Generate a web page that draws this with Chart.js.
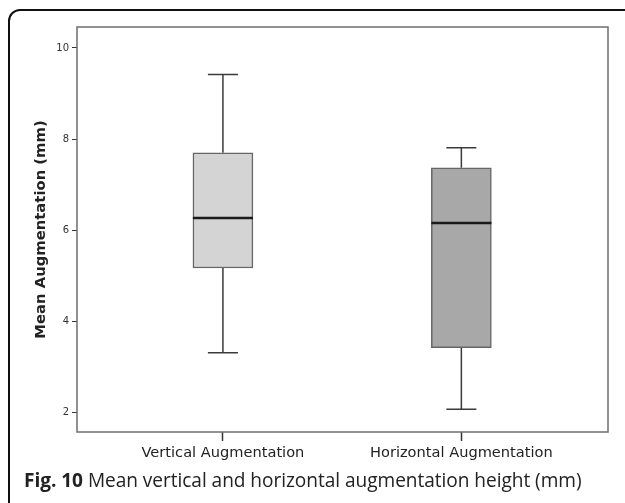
<!DOCTYPE html>
<html>
<head>
<meta charset="utf-8">
<script src="https://cdn.jsdelivr.net/npm/chart.js@4"></script>
<style>
  html, body { margin:0; padding:0; width:625px; height:503px; overflow:hidden; background:#fff; }
  #frame { position:absolute; left:8px; top:9px; width:700px; height:600px; border:2px solid #111; border-top-left-radius:12px; box-sizing:border-box; }
  #wrap { position:absolute; left:0; top:0; width:625px; height:503px; }
  #caption { position:absolute; left:24px; top:467px; font-family:"Open Sans", sans-serif; font-size:19.1px; color:#222; white-space:nowrap; letter-spacing:-0.05px; }
  #caption b { font-weight:700; }
</style>
</head>
<body>
<div id="frame"></div>
<div id="wrap"><canvas id="c" width="625" height="503"></canvas></div>
<div id="caption"><b>Fig. 10</b> Mean vertical and horizontal augmentation height (mm)</div>
<script>
const categories = ['Vertical Augmentation', 'Horizontal Augmentation'];
const whiskerLow  = [3.31, 2.07];
const q1          = [5.17, 3.42];
const medians     = [6.27, 6.16];
const q3          = [7.70, 7.37];
const whiskerHigh = [9.42, 7.81];
const yTicks      = [2, 4, 6, 8, 10];
const boxColors   = ['#d4d4d4', '#a8a8a8'];

const BOX_HALF = 0.126;   // half box width in x-units
const CAP_HALF = 0.063;   // half whisker cap width in x-units

const boxData = categories.map((c, i) => ({ x: i, y: [q1[i], q3[i]] }));
const whiskerData = [], capData = [], medianData = [];
categories.forEach((c, i) => {
  whiskerData.push({ x: i, y: q3[i] }, { x: i, y: whiskerHigh[i] }, { x: i, y: null });
  whiskerData.push({ x: i, y: q1[i] }, { x: i, y: whiskerLow[i] }, { x: i, y: null });
  capData.push({ x: i - CAP_HALF, y: whiskerHigh[i] }, { x: i + CAP_HALF, y: whiskerHigh[i] }, { x: i, y: null });
  capData.push({ x: i - CAP_HALF, y: whiskerLow[i] }, { x: i + CAP_HALF, y: whiskerLow[i] }, { x: i, y: null });
  medianData.push({ x: i - BOX_HALF, y: medians[i] }, { x: i + BOX_HALF, y: medians[i] }, { x: i, y: null });
});

const framePlugin = {
  id: 'plotFrame',
  afterDraw(chart) {
    const { ctx, chartArea: a } = chart;
    ctx.save();
    ctx.strokeStyle = '#6e6e6e';
    ctx.lineWidth = 1.5;
    ctx.strokeRect(a.left, a.top, a.right - a.left, a.bottom - a.top);
    ctx.restore();
  }
};

Chart.defaults.font.family = 'DejaVu Sans';
const lineStyle = { type: 'line', pointRadius: 0, pointHoverRadius: 0, tension: 0, spanGaps: false, fill: false };

new Chart(document.getElementById('c'), {
  type: 'bar',
  data: {
    datasets: [
      Object.assign({ data: whiskerData, borderColor: '#3a3a3a', borderWidth: 1.5, order: 3 }, lineStyle),
      Object.assign({ data: capData, borderColor: '#3a3a3a', borderWidth: 1.5, order: 2 }, lineStyle),
      { type: 'bar', data: boxData, backgroundColor: boxColors, borderColor: '#666', borderWidth: 1.5, borderSkipped: false, barThickness: 60, order: 1 },
      Object.assign({ data: medianData, borderColor: '#1a1a1a', borderWidth: 2.5, order: 0 }, lineStyle)
    ]
  },
  options: {
    responsive: false,
    animation: false,
    devicePixelRatio: 1,
    layout: { padding: { top: 27, right: 17, left: 0, bottom: 0 } },
    plugins: { legend: { display: false }, tooltip: { enabled: false } },
    scales: {
      x: {
        type: 'linear',
        min: -0.612,
        max: 1.615,
        offset: false,
        afterBuildTicks(s) { s.ticks = categories.map((c, i) => ({ value: i })); },
        afterFit(s) { s.height = 71; },
        grid: { display: true, drawOnChartArea: false, drawTicks: true, tickLength: 9, tickColor: '#333', tickWidth: 1.5, offset: false },
        border: { display: false },
        ticks: { callback: (v) => categories[v], font: { size: 14.6 }, color: '#222', padding: 3, maxRotation: 0, autoSkip: false }
      },
      y: {
        type: 'linear',
        min: 1.57,
        max: 10.46,
        afterBuildTicks(s) { s.ticks = yTicks.map(v => ({ value: v })); },
        afterFit(s) { s.width = 77; },
        grid: { display: true, drawOnChartArea: false, drawTicks: true, tickLength: 5, tickColor: '#333', tickWidth: 1 },
        border: { display: false },
        ticks: { font: { size: 10 }, color: '#333', padding: 3 },
        title: { display: true, text: 'Mean Augmentation (mm)', font: { size: 14.8, weight: 'bold' }, color: '#222', padding: { top: 32, bottom: 0 } }
      }
    }
  },
  plugins: [framePlugin]
});
</script>
</body>
</html>
